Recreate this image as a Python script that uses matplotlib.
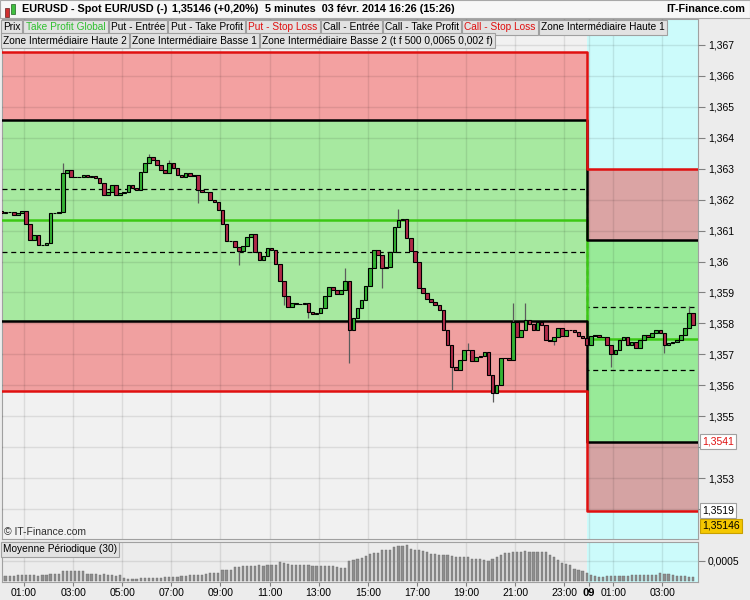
import numpy as np
import matplotlib.pyplot as plt
from matplotlib.patches import Rectangle

plt.rcParams['font.family'] = ['Liberation Sans', 'DejaVu Sans']
plt.rcParams['font.size'] = 7.5

# 10 minute candles (close of each bar, open = previous close)
first_open = 1.36163
closes = [
    1.36157, 1.36160, 1.36160, 1.36150, 1.36157, 1.36163, 1.36121, 1.36070, 1.36086, 1.36053,
    1.36053, 1.36060, 1.36157, 1.36157, 1.36160, 1.36286, 1.36296, 1.36273, 1.36273, 1.36273,
    1.36280, 1.36273, 1.36277, 1.36270, 1.36254, 1.36215, 1.36225, 1.36247, 1.36215, 1.36222,
    1.36225, 1.36247, 1.36238, 1.36231, 1.36289, 1.36319, 1.36338, 1.36328, 1.36312, 1.36296,
    1.36286, 1.36319, 1.36302, 1.36280, 1.36273, 1.36286, 1.36277, 1.36280, 1.36231, 1.36225,
    1.36225, 1.36199, 1.36192, 1.36167, 1.36121, 1.36066, 1.36066, 1.36047, 1.36034, 1.36050,
    1.36079, 1.36089, 1.36031, 1.36005, 1.36018, 1.36044, 1.36037, 1.35992, 1.35937, 1.35889,
    1.35853, 1.35866, 1.35863, 1.35863, 1.35866, 1.35837, 1.35830, 1.35834, 1.35850, 1.35889,
    1.35918, 1.35908, 1.35895, 1.35908, 1.35937, 1.35779, 1.35817, 1.35850, 1.35876, 1.35921,
    1.35979, 1.36037, 1.36021, 1.35979, 1.35982, 1.36031, 1.36112, 1.36134, 1.36137, 1.36076,
    1.36034, 1.35999, 1.35914, 1.35898, 1.35879, 1.35869, 1.35859, 1.35843, 1.35779, 1.35730,
    1.35659, 1.35649, 1.35682, 1.35714, 1.35714, 1.35678, 1.35691, 1.35695, 1.35707, 1.35633,
    1.35575, 1.35601, 1.35688, 1.35688, 1.35682, 1.35804, 1.35756, 1.35779, 1.35811, 1.35798,
    1.35779, 1.35804, 1.35795, 1.35746, 1.35743, 1.35756, 1.35785, 1.35759, 1.35779, 1.35779,
    1.35772, 1.35759, 1.35753, 1.35730, 1.35759, 1.35762, 1.35756, 1.35756, 1.35730, 1.35701,
    1.35714, 1.35746, 1.35756, 1.35730, 1.35740, 1.35720, 1.35746, 1.35762, 1.35756, 1.35769,
    1.35779, 1.35769, 1.35730, 1.35737, 1.35740, 1.35746, 1.35762, 1.35785, 1.35834, 1.35795,
]
# wicks that stick out beyond the body (bar index -> price)
wick_hi = {15: 1.36319, 36: 1.36348, 41: 1.36328, 84: 1.35979, 97: 1.36170,
           114: 1.35737, 125: 1.35866, 128: 1.35866, 168: 1.35856}
wick_lo = {48: 1.36189, 58: 1.35989, 69: 1.35860, 75: 1.35817, 85: 1.35672, 93: 1.35914,
           110: 1.35585, 120: 1.35547, 135: 1.35730, 149: 1.35659, 162: 1.35704}

# Moyenne Periodique (30), in units of 1e-4
period_avg = [
    1.2, 1.3, 1.2, 1.3, 1.4, 1.4, 1.5, 1.4, 1.5, 1.3,
    1.5, 1.6, 1.7, 1.8, 1.7, 2.5, 2.6, 2.6, 2.5, 2.5,
    2.4, 1.8, 1.7, 1.7, 1.6, 1.7, 1.6, 1.4, 1.3, 1.4,
    0.7, 0.6, 0.6, 0.6, 0.7, 0.8, 0.8, 0.7, 0.8, 0.8,
    0.9, 1.1, 1.0, 1.1, 1.2, 1.2, 1.4, 1.4, 1.5, 1.4,
    1.8, 1.9, 1.9, 2.0, 2.7, 2.8, 2.8, 3.5, 3.6, 3.7,
    3.7, 3.8, 3.8, 3.9, 3.8, 3.9, 3.9, 3.9, 4.7, 4.4,
    4.2, 4.1, 4.1, 4.1, 4.0, 4.0, 3.8, 3.8, 3.7, 3.7,
    3.8, 3.7, 3.4, 3.2, 3.2, 5.0, 5.3, 5.5, 5.7, 6.2,
    6.8, 7.0, 7.1, 7.7, 7.7, 7.8, 8.5, 8.7, 8.7, 9.0,
    8.0, 7.8, 7.7, 7.6, 7.2, 6.8, 6.7, 6.6, 6.6, 6.5,
    6.2, 6.1, 6.1, 6.0, 6.1, 5.6, 5.4, 5.5, 5.2, 5.0,
    5.4, 5.9, 6.4, 6.9, 7.0, 7.2, 7.3, 7.2, 7.5, 7.3,
    7.3, 7.3, 7.2, 7.2, 6.6, 6.0, 5.3, 4.5, 4.2, 3.9,
    3.0, 2.7, 2.4, 2.1, 1.5, 1.3, 1.1, 1.1, 1.2, 1.2,
    1.2, 1.3, 1.2, 1.3, 1.4, 1.4, 1.4, 1.4, 1.4, 1.5,
    1.6, 1.9, 1.8, 1.7, 1.4, 1.3, 1.2, 1.2, 1.1, 1.1,
]

# levels (before midnight, after midnight)
put_stop = (1.36677, 1.36300)
put_entry = (1.36458, 1.36070)
zone_high = (1.36234, 1.35853)
tp_global = (1.36134, 1.35749)
zone_low = (1.36031, 1.35649)
call_entry = (1.35808, 1.35418)
call_stop = (1.35581, 1.35195)

last_price = 1.35146
tick_hours = [1, 3, 5, 7, 9, 11, 13, 15, 17, 19, 21, 23, 24, 25, 27]
tick_names = ['01:00', '03:00', '05:00', '07:00', '09:00', '11:00', '13:00', '15:00',
              '17:00', '19:00', '21:00', '23:00', '09', '01:00', '03:00']

# --- geometry ---
W, H = 750, 600
x0, x1 = 0.104, 28.45
x_step = 23.92
bg = '#f1f1f1'
cyan = '#ccfbfb'

closes = np.array(closes)
n = len(closes)
t = (5 + 10 * np.arange(n)) / 60.0
opens = np.concatenate([[first_open], closes[:-1]])
highs = np.maximum(opens, closes)
lows = np.minimum(opens, closes)
for k, v in wick_hi.items():
    highs[k] = v
for k, v in wick_lo.items():
    lows[k] = v

fig = plt.figure(figsize=(W / 100, H / 100), dpi=100, facecolor='#ececec')
ax = fig.add_axes([2 / W, 61 / H, 696 / W, 520 / H], facecolor=bg)
ax2 = fig.add_axes([2 / W, 18 / H, 696 / W, 40 / H], facecolor='#ececec', sharex=ax)

ax.set_xlim(x0, x1)
ax.set_ylim(1.35103, 1.36784)

# background zones
ax.axvspan(x_step, x1, color=cyan, zorder=0.2, lw=0)
ax2.axvspan(x_step, x1, color=cyan, zorder=0.2, lw=0)
left = [x0, x_step]
right = [x_step, x1]
ax.fill_between(left, put_stop[0], put_entry[0], color='#f3a1a1', lw=0, zorder=0.5)
ax.fill_between(left, put_entry[0], call_entry[0], color='#a7e9a0', lw=0, zorder=0.5)
ax.fill_between(left, call_entry[0], call_stop[0], color='#f0a0a0', lw=0, zorder=0.5)
ax.fill_between(right, put_stop[1], put_entry[1], color='#dba4a4', lw=0, zorder=0.5)
ax.fill_between(right, put_entry[1], call_entry[1], color='#98ea98', lw=0, zorder=0.5)
ax.fill_between(right, call_entry[1], call_stop[1], color='#d5a3a3', lw=0, zorder=0.5)

# level lines
xs = [x0, x_step, x1]
def level(pair, **kw):
    ax.plot(xs, [pair[0], pair[1], pair[1]], drawstyle='steps-post', zorder=3, **kw)

level(zone_high, color='black', lw=0.9, ls=(0, (4, 3)))
level(zone_low, color='black', lw=0.9, ls=(0, (4, 3)))
level(tp_global, color='#3cc814', lw=1.8)
level(put_entry, color='black', lw=1.8)
level(call_entry, color='black', lw=1.8)
level(put_stop, color='#e01010', lw=1.8)
level(call_stop, color='#e01010', lw=1.8)

# candles
ax.vlines(t, lows, highs, color='#5c5c5c', lw=0.9, zorder=3.5)
up = closes >= opens
body = np.where(np.abs(closes - opens) < 1e-6, 1e-6, closes - opens)
ax.bar(t, body, bottom=opens, width=0.145, color=np.where(up, '#34b334', '#b02a48'),
       edgecolor='black', linewidth=0.8, zorder=4)

# grid
ax.set_axisbelow(False)
ax.grid(True, color='black', alpha=0.09, lw=1)
ax2.set_axisbelow(True)
ax2.grid(True, color='black', alpha=0.09, lw=1)

yt = np.round(np.arange(1.352, 1.3675, 0.001), 3)
# 1,354 and 1,352 sit under the price boxes
ylabels = ['' if v in (1.352, 1.354) else f"{v:.3f}".rstrip('0').replace('.', ',') for v in yt]
ax.set_yticks(yt, ylabels)
for v, lab in zip(yt, ax.get_yticklabels()):
    if round(v * 1000) % 5 == 0:
        lab.set_fontweight('bold')
ax.yaxis.tick_right()
ax.tick_params(axis='y', length=5, width=0.8, color='#808080', pad=2, labelsize=7.5)
ax.set_xticks(tick_hours)
ax.tick_params(axis='x', length=0, labelbottom=False)
for s in ax.spines.values():
    s.set_color('#a0a0a0')

# indicator panel
ax2.bar(t, np.array(period_avg) * 1e-4, width=0.09, color='#8e8e8e', edgecolor='#6a6a6a',
        linewidth=0.3, zorder=2)
ax2.set_ylim(-0.000025, 0.000975)
ax2.set_yticks([0.0005], ['0,0005'])
ax2.yaxis.tick_right()
ax2.tick_params(axis='y', length=5, width=0.8, color='#808080', pad=2, labelsize=7.5)
ax2.set_xticks(tick_hours, tick_names)
ax2.tick_params(axis='x', length=3, color='#808080', pad=1.5, labelsize=7.5)
for lab in ax2.get_xticklabels():
    if lab.get_text() == '09':
        lab.set_fontweight('bold')
        lab.set_fontsize(8)
for s in ax2.spines.values():
    s.set_color('#a0a0a0')

# price boxes on the right axis
ytr = ax.get_yaxis_transform()
ax.text(1.006, call_entry[1], '1,3541', transform=ytr, color='#e01010', va='center', ha='left',
        clip_on=False, zorder=10, bbox=dict(boxstyle='square,pad=0.2', fc='white', ec='#a0a0a0', lw=0.8))
ax.text(1.006, call_stop[1], '1,3519', transform=ytr, color='black', va='center', ha='left',
        clip_on=False, zorder=10, bbox=dict(boxstyle='square,pad=0.2', fc='white', ec='#a0a0a0', lw=0.8))
ax.text(1.006, last_price, '1,35146', transform=ytr, color='black', va='center', ha='left',
        clip_on=False, zorder=11, bbox=dict(boxstyle='square,pad=0.2', fc='#f5c800', ec='#c8a000', lw=0.8))

ax.text(0.003, 0.013, '\u00a9 IT-Finance.com', transform=ax.transAxes, ha='left', va='center',
        fontsize=7.5, color='#303030', zorder=10)

# header
fig.add_artist(Rectangle((0, 1 - 18 / H), 1, 18 / H, transform=fig.transFigure,
                         fc='#f7f7f7', ec='#a8a8a8', lw=0.8))
fig.add_artist(Rectangle((5 / W, 1 - 17 / H), 4 / W, 9 / H, transform=fig.transFigure,
                         fc='#d03030', ec='#602020', lw=0.5))
fig.add_artist(Rectangle((11 / W, 1 - 14 / H), 4 / W, 10 / H, transform=fig.transFigure,
                         fc='#40c040', ec='#206020', lw=0.5))
hy = 1 - 9.5 / H
fig.text(22 / W, hy, 'EURUSD - Spot EUR/USD (-)', weight='bold', va='center', ha='left', fontsize=7.8)
fig.text(172 / W, hy, '1,35146 (+0,20%)', weight='bold', va='center', ha='left', fontsize=7.8)
fig.text(265 / W, hy, '5 minutes  03 f\u00e9vr. 2014 16:26 (15:26)', weight='bold', va='center',
         ha='left', fontsize=7.8)
fig.text(745 / W, hy, 'IT-Finance.com', weight='bold', va='center', ha='right', fontsize=7.8)

# legend boxes, placed one after another
renderer = fig.canvas.get_renderer()
box_fs = 7.3
box_pad = 0.22
pad_px = box_pad * box_fs * 100 / 72

def box_row(items, y_px, x_start=0.5):
    xp = x_start
    for label, col in items:
        tx = fig.text((xp + pad_px) / W, 1 - y_px / H, label, color=col, va='center', ha='left',
                      fontsize=box_fs, zorder=20,
                      bbox=dict(boxstyle=f'square,pad={box_pad}', fc='#e2e2e2', ec='#a0a0a0', lw=0.8))
        ext = tx.get_window_extent(renderer)
        xp = ext.x1 + pad_px + 1

box_row([('Prix', 'black'), ('Take Profit Global', '#30c030'), ('Put - Entr\u00e9e', 'black'),
         ('Put - Take Profit', 'black'), ('Put - Stop Loss', '#e01010'),
         ('Call - Entr\u00e9e', 'black'), ('Call - Take Profit', 'black'),
         ('Call - Stop Loss', '#e01010'), ('Zone Interm\u00e9diaire Haute 1', 'black')], 27.5)
box_row([('Zone Interm\u00e9diaire Haute 2', 'black'), ('Zone Interm\u00e9diaire Basse 1', 'black'),
         ('Zone Interm\u00e9diaire Basse 2 (t f 500 0,0065 0,002 f)', 'black')], 40.5)
box_row([('Moyenne P\u00e9riodique (30)', 'black')], 549.5)

fig.savefig('out.png', dpi=100, facecolor=fig.get_facecolor())
